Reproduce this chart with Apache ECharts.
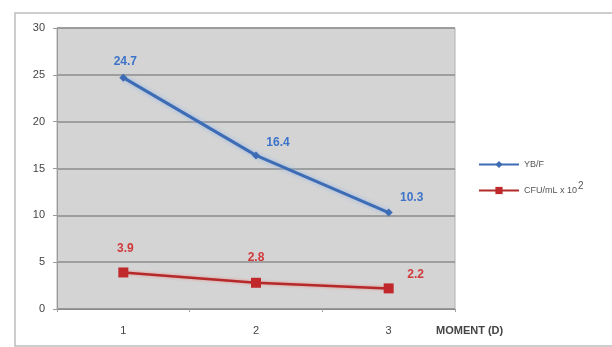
<!DOCTYPE html>
<html>
<head>
<meta charset="utf-8">
<script src="https://cdn.jsdelivr.net/npm/echarts@6/dist/echarts.min.js"></script>
<style>
  html, body { margin: 0; padding: 0; background: #fff; }
  #chart { width: 612px; height: 347px; }
</style>
</head>
<body>
<div id="chart"></div>
<script>
// Sampling moments (days)
const moments = ['1', '2', '3'];
// Yeasts per field
const ybfValues = [24.7, 16.4, 10.3];
// Colony-forming units per mL (x 10^2)
const cfuValues = [3.9, 2.8, 2.2];
// Y axis range and step
const yMin = 0;
const yMax = 30;
const yStep = 5;

const FONT = '"Liberation Sans", Arial, sans-serif';
const BLUE = '#3d6cb5';
const RED = '#c0282c';

// per-point label nudges, so labels sit clear of the lines
const ybfLabelOffsets = [[2, 2], [22, 5], [23, 3]];
const cfuLabelOffsets = [[2, -5], [0, -6], [27, 5]];

function withOffsets(values, offsets) {
  return values.map((v, i) => ({ value: v, label: { offset: offsets[i] } }));
}

const chart = echarts.init(document.getElementById('chart'), null, { renderer: 'canvas' });

chart.setOption({
  backgroundColor: '#ffffff',
  animation: false,
  textStyle: { fontFamily: FONT },
  grid: {
    left: 57, right: 157, top: 28, bottom: 38,
    show: true,
    backgroundColor: '#d4d4d4',
    borderColor: '#b0b0b0',
    borderWidth: 1
  },
  legend: {
    orient: 'vertical',
    left: 473,
    top: 155,
    itemWidth: 40,
    itemHeight: 9,
    itemGap: 12,
    data: ['YB/F', 'CFU/mL x 10'],
    formatter: function (name) {
      return name === 'CFU/mL x 10' ? name + '{sup|2}' : name;
    },
    textStyle: {
      fontFamily: FONT,
      fontSize: 9,
      color: '#555',
      rich: {
        sup: { fontSize: 10, color: '#555', verticalAlign: 'top', padding: [0, 0, 9, 1] }
      }
    }
  },
  xAxis: {
    type: 'category',
    data: moments,
    boundaryGap: true,
    axisLine: { show: true, lineStyle: { color: '#8a8a8a', width: 1 } },
    axisTick: { show: true, length: 3, lineStyle: { color: '#a0a0a0' } },
    axisLabel: { margin: 16, fontSize: 11, color: '#444', fontFamily: FONT },
    splitLine: { show: false }
  },
  yAxis: {
    type: 'value',
    min: yMin,
    max: yMax,
    interval: yStep,
    axisLine: { show: true, lineStyle: { color: '#9a9a9a' } },
    axisTick: { show: true, length: 4, lineStyle: { color: '#9a9a9a' } },
    axisLabel: { margin: 12, fontSize: 11, color: '#444', fontFamily: FONT },
    splitLine: { show: true, lineStyle: { color: '#8c8c8c', width: 1.5 } }
  },
  graphic: [
    {
      type: 'rect',
      silent: true,
      z: -1,
      shape: { x: 15, y: 13, width: 700, height: 333 },
      style: { fill: 'none', stroke: '#bdbdbd', lineWidth: 1.5 }
    },
    {
      type: 'text',
      left: 436,
      top: 325,
      style: {
        text: 'MOMENT (D)',
        font: 'bold 11px ' + FONT,
        fill: '#444'
      }
    }
  ],
  series: [
    {
      name: 'YB/F',
      type: 'line',
      data: withOffsets(ybfValues, ybfLabelOffsets),
      symbol: 'diamond',
      symbolSize: 8,
      itemStyle: { color: BLUE },
      lineStyle: { color: BLUE, width: 3, shadowColor: 'rgba(140,180,235,0.9)', shadowBlur: 4 },
      label: {
        show: true,
        position: 'top',
        distance: 8,
        color: '#3d74c9',
        fontWeight: 'bold',
        fontSize: 12,
        fontFamily: FONT
      },
      z: 3
    },
    {
      name: 'CFU/mL x 10',
      type: 'line',
      data: withOffsets(cfuValues, cfuLabelOffsets),
      symbol: 'rect',
      symbolSize: 10,
      itemStyle: { color: RED },
      lineStyle: { color: '#b42a2a', width: 2.5, shadowColor: 'rgba(240,120,120,0.8)', shadowBlur: 3 },
      label: {
        show: true,
        position: 'top',
        distance: 8,
        color: '#d03a3a',
        fontWeight: 'bold',
        fontSize: 12,
        fontFamily: FONT
      },
      z: 3
    }
  ]
});
</script>
</body>
</html>
